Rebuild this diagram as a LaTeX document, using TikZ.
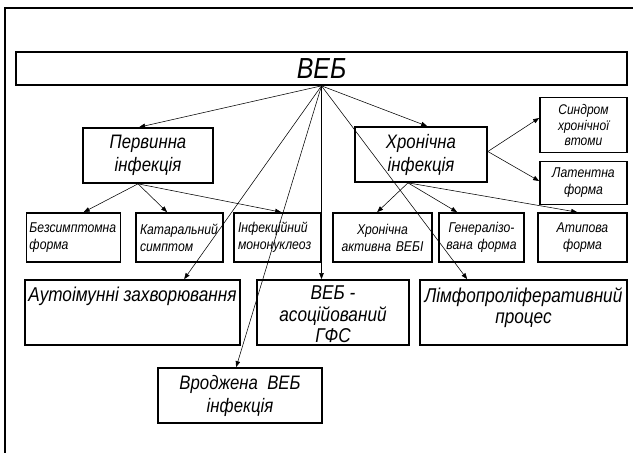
\documentclass[tikz,border=0pt]{standalone}
\usepackage{fontspec}
\setmainfont{Liberation Sans}[FakeStretch=0.86]
\usetikzlibrary{arrows.meta,calc}
\begin{document}
\begin{tikzpicture}[x=1pt,y=-1pt,
  box/.style={draw, line width=1.7pt, inner xsep=4pt, inner ysep=0pt, font=\itshape},
  arr/.style={line width=0.55pt, -{Triangle[length=6pt,width=4.5pt]}},
  lab/.style={anchor=north, align=center, inner sep=0pt, yshift=-8pt, font=\itshape\fontsize{20}{21.5}\selectfont},
  big/.style={font=\itshape\fontsize{19.5}{23}\selectfont},
  small/.style={font=\itshape\fontsize{14.2}{17}\selectfont},
  tiny/.style={font=\itshape\fontsize{14}{15.5}\selectfont}
]
\useasboundingbox (0,0) rectangle (633,453);
\fill[white] (0,0) rectangle (633,453);
\draw[line width=1.3pt] (5,453) -- (5,8) -- (633,8);

\node[box, minimum width=611pt, minimum height=33pt, font=\itshape\fontsize{29}{30}\selectfont] (veb) at (321.5,68.5) {ВЕБ};

\node[box, big, minimum width=130pt, minimum height=55pt, align=center] (pi) at (148,155.5) {Первинна\\інфекція};
\node[box, big, minimum width=132pt, minimum height=55pt, align=center] (hi) at (421,154.5) {Хронічна\\інфекція};
\node[box, tiny, minimum width=87pt, minimum height=55pt, align=center] (sx) at (583.5,125) {Синдром\\хронічної\\втоми};
\node[box, small, minimum width=87pt, minimum height=43pt, align=center] (lf) at (583.5,183) {Латентна\\форма};

\node[box, small, minimum height=49pt, text width=88pt, inner xsep=3pt, align=left] (b1) at (73.5,237.5) {Безсимптомна\\форма};
\node[box, small, minimum height=49pt, text width=79pt, align=left] (b2) at (179.5,237.5) {Катаральний\\ симптом};
\node[box, small, minimum height=49pt, text width=79pt, align=left] (b3) at (277.5,237.5) {Інфекційний\\мононуклеоз};
\node[box, small, minimum height=49pt, text width=91pt, align=center] (b4) at (382.5,237.5) {Хронічна\\активна ВЕБІ};
\node[box, small, minimum height=49pt, text width=77pt, align=center] (b5) at (481.5,237.5) {Генералізо-\\вана форма};
\node[box, small, minimum height=49pt, text width=81pt, align=center] (b6) at (582.5,237.5) {Атипова\\форма};

\node[box, minimum width=215pt, minimum height=65pt, label={[lab]north:Аутоімунні захворювання}] (c1) at (132.5,312.5) {};
\node[box, minimum width=152pt, minimum height=65pt, label={[lab, yshift=1.5pt]north:ВЕБ -\\асоційований\\ГФС}] (c2) at (333,312.5) {};
\node[box, minimum width=207pt, minimum height=65pt, label={[lab]north:Лімфопроліферативний\\процес}] (c3) at (523.5,312.5) {};

\node[box, big, minimum width=164pt, minimum height=55pt, align=center] (vr) at (240,395.5) {Вроджена\ \ ВЕБ\\інфекція};

% arrows from ВЕБ
\draw[arr] (veb.south) -- ($(pi.north west)+(57,0)$);
\draw[arr] (veb.south) -- ($(hi.north west)+(73,0)$);
\draw[arr] (veb.south) -- ($(c1.north west)+(160,0)$);
\draw[arr] (veb.south) -- ($(vr.north west)+(79,0)$);
\draw[arr] (veb.south) -- (veb.south |- c2.north);
\draw[arr] (veb.south) -- ($(c3.north west)+(48,0)$);

% from Первинна
\coordinate (ps) at ($(pi.south)+(-10,0)$);
\draw[arr] (ps) -- ($(b1.north west)+(58,0)$);
\draw[arr] (ps) -- ($(b2.north west)+(32,0)$);
\draw[arr] (ps) -- ($(b3.north west)+(48,0)$);

% from Хронічна
\coordinate (hs) at ($(hi.south)+(-13,0)$);
\draw[arr] (hs) -- ($(b4.north west)+(45,0)$);
\draw[arr] (hs) -- ($(b5.north west)+(19,0)$);
\draw[arr] (hs) -- ($(b6.north west)+(40,0)$);
\coordinate (he) at ($(hi.east)+(0,-3)$);
\draw[arr] (he) -- ($(sx.west)+(0,-7)$);
\draw[arr] (he) -- ($(lf.west)+(0,-2)$);
\end{tikzpicture}
\end{document}
